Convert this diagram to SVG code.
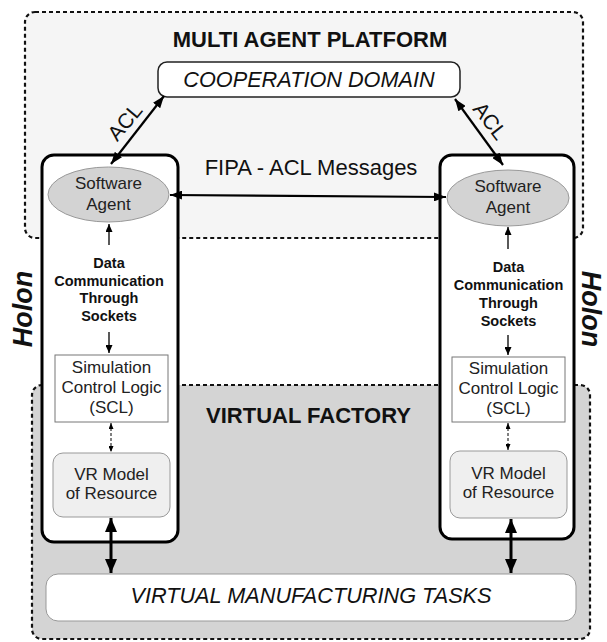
<svg xmlns="http://www.w3.org/2000/svg" width="607" height="642" viewBox="0 0 607 642">
<defs>
<style>
text{font-family:"Liberation Sans",Arial,sans-serif;fill:#111}
.region{stroke:#111;stroke-width:2.2;stroke-dasharray:4 3}
.holon{fill:#fff;stroke:#000;stroke-width:3}
.agent{fill:#d3d3d3;stroke:#999;stroke-width:1}
.scl{fill:#fff;stroke:#777;stroke-width:1}
.vr{fill:#efefef;stroke:#999;stroke-width:1}
.task{fill:#fff;stroke:#999;stroke-width:1}
.coop{fill:#fff;stroke:#222;stroke-width:1.5}
.title{font-weight:bold;font-size:22px}
.big{font-style:italic;font-size:21.7px}
.lbl{font-size:17px;fill:#222}
.data{font-weight:bold;font-size:14.5px}
.holonlbl{font-weight:bold;font-style:italic;font-size:27px}
.acl{font-size:21px}
.c{fill:none;stroke:#000}
</style>
<marker id="am" viewBox="0 0 12 9" refX="12" refY="4.5" markerWidth="12" markerHeight="9" markerUnits="userSpaceOnUse" orient="auto-start-reverse"><path d="M0,0L12,4.5L0,9z" fill="#000"/></marker>
<marker id="ab" viewBox="0 0 14 12" refX="14" refY="6" markerWidth="14" markerHeight="12" markerUnits="userSpaceOnUse" orient="auto-start-reverse"><path d="M0,0L14,6L0,12z" fill="#000"/></marker>
<marker id="as" viewBox="0 0 8 7" refX="8" refY="3.5" markerWidth="8" markerHeight="7" markerUnits="userSpaceOnUse" orient="auto-start-reverse"><path d="M0,0L8,3.5L0,7z" fill="#000"/></marker>
<marker id="at" viewBox="0 0 6 5" refX="6" refY="2.5" markerWidth="6" markerHeight="5" markerUnits="userSpaceOnUse" orient="auto-start-reverse"><path d="M0,0L6,2.5L0,5z" fill="#000"/></marker>
</defs>
<rect width="607" height="642" fill="#fff"/>

<g id="multi-agent-platform">
<rect class="region" x="25" y="12" width="558" height="226" rx="10" fill="#f5f5f5"/>
<text class="title" x="310" y="47" text-anchor="middle">MULTI AGENT PLATFORM</text>
<text x="311" y="175" text-anchor="middle" font-size="22">FIPA - ACL Messages</text>
</g>

<g id="virtual-factory">
<rect class="region" x="32" y="385" width="558" height="254" rx="10" fill="#d4d4d4"/>
<text class="title" x="308.5" y="423" text-anchor="middle">VIRTUAL FACTORY</text>
</g>

<g id="cooperation-domain">
<rect class="coop" x="158" y="62" width="302" height="35" rx="9"/>
<text class="big" x="309" y="87" text-anchor="middle">COOPERATION DOMAIN</text>
</g>

<g id="holon-left">
<rect class="holon" x="42" y="155" width="136" height="387" rx="12"/>
<text class="holonlbl" transform="translate(32,309) rotate(-90)" text-anchor="middle">Holon</text>
</g>
<g id="holon-right">
<rect class="holon" x="440" y="155" width="134" height="384" rx="12"/>
<text class="holonlbl" transform="translate(582,309) rotate(90)" text-anchor="middle">Holon</text>
</g>

<g id="agent-left">
<ellipse class="agent" cx="108.5" cy="194.5" rx="60.5" ry="27.5"/>
<text class="lbl" x="108.5" y="189" text-anchor="middle">Software</text>
<text class="lbl" x="108.5" y="210" text-anchor="middle">Agent</text>
</g>
<g id="agent-right">
<ellipse class="agent" cx="508" cy="198" rx="61" ry="28"/>
<text class="lbl" x="508" y="192" text-anchor="middle">Software</text>
<text class="lbl" x="508" y="213" text-anchor="middle">Agent</text>
</g>

<g id="comm-left">
<text class="data" x="109" y="268" text-anchor="middle">Data</text>
<text class="data" x="109" y="286" text-anchor="middle">Communication</text>
<text class="data" x="109" y="303" text-anchor="middle">Through</text>
<text class="data" x="109" y="321" text-anchor="middle">Sockets</text>
</g>
<g id="comm-right">
<text class="data" x="508.5" y="272" text-anchor="middle">Data</text>
<text class="data" x="508.5" y="290" text-anchor="middle">Communication</text>
<text class="data" x="508.5" y="308" text-anchor="middle">Through</text>
<text class="data" x="508.5" y="326" text-anchor="middle">Sockets</text>
</g>

<g id="scl-left">
<rect class="scl" x="55" y="355" width="113" height="67"/>
<text class="lbl" x="111.5" y="373" text-anchor="middle">Simulation</text>
<text class="lbl" x="111.5" y="393" text-anchor="middle">Control Logic</text>
<text class="lbl" x="111.5" y="413" text-anchor="middle">(SCL)</text>
</g>
<g id="scl-right">
<rect class="scl" x="452" y="357" width="113" height="65"/>
<text class="lbl" x="508.5" y="374" text-anchor="middle">Simulation</text>
<text class="lbl" x="508.5" y="394" text-anchor="middle">Control Logic</text>
<text class="lbl" x="508.5" y="414" text-anchor="middle">(SCL)</text>
</g>

<g id="vr-left">
<rect class="vr" x="53" y="453" width="117" height="64" rx="10"/>
<text class="lbl" x="111.5" y="480" text-anchor="middle">VR Model</text>
<text class="lbl" x="111.5" y="499" text-anchor="middle">of Resource</text>
</g>
<g id="vr-right">
<rect class="vr" x="450" y="451" width="117" height="67" rx="10"/>
<text class="lbl" x="508.5" y="479" text-anchor="middle">VR Model</text>
<text class="lbl" x="508.5" y="498" text-anchor="middle">of Resource</text>
</g>

<g id="manufacturing-tasks">
<rect class="task" x="46" y="574" width="530" height="47" rx="12"/>
<text class="big" x="311" y="603" text-anchor="middle">VIRTUAL MANUFACTURING TASKS</text>
</g>

<g id="connectors">
<line class="c" x1="164" y1="96" x2="111" y2="164" stroke-width="2.2" marker-start="url(#am)" marker-end="url(#am)"/>
<line class="c" x1="455" y1="99" x2="503" y2="165" stroke-width="2.2" marker-start="url(#am)" marker-end="url(#am)"/>
<line class="c" x1="170" y1="195" x2="446" y2="197" stroke-width="2.2" marker-start="url(#am)" marker-end="url(#am)"/>
<line class="c" x1="109" y1="245" x2="109" y2="224" stroke-width="1.3" marker-end="url(#as)"/>
<line class="c" x1="109" y1="332" x2="109" y2="353" stroke-width="1.3" marker-end="url(#as)"/>
<line class="c" x1="508" y1="249" x2="508" y2="227" stroke-width="1.3" marker-end="url(#as)"/>
<line class="c" x1="508" y1="335" x2="508" y2="355" stroke-width="1.3" marker-end="url(#as)"/>
<line class="c" x1="111" y1="423" x2="111" y2="452" stroke-width="1" stroke-dasharray="3 2" marker-start="url(#at)" marker-end="url(#at)"/>
<line class="c" x1="508" y1="423" x2="508" y2="450" stroke-width="1" stroke-dasharray="3 2" marker-start="url(#at)" marker-end="url(#at)"/>
<line class="c" x1="111" y1="518" x2="111" y2="573" stroke-width="3" marker-start="url(#ab)" marker-end="url(#ab)"/>
<line class="c" x1="511" y1="519" x2="511" y2="573" stroke-width="3" marker-start="url(#ab)" marker-end="url(#ab)"/>
</g>

<g id="acl-labels">
<text class="acl" transform="translate(125,122) rotate(-50)" x="0" y="7" text-anchor="middle">ACL</text>
<text class="acl" transform="translate(490,121) rotate(52)" x="0" y="7" text-anchor="middle">ACL</text>
</g>
</svg>
